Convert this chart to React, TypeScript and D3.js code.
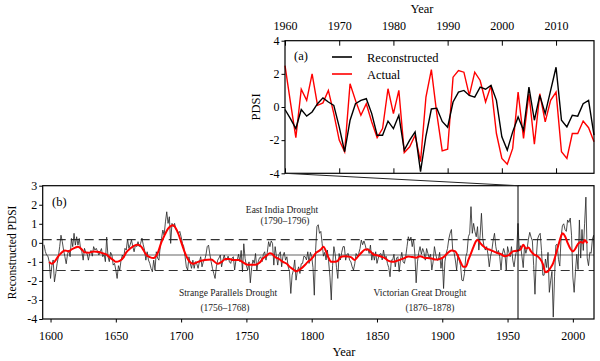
import React, { useRef, useEffect } from "react";
import * as d3 from "d3";

const FONT = "'Liberation Serif', 'Times New Roman', serif";

// reconstructed PDSI, one value per year starting 1595
const reconStart = 1595;
const reconPdsi = [
  -0.1, -0.45, -0.65, -0.7, -1.0,
  -1.87, -1.2, -0.9, -2.05, -1.6, -1.1, -0.73, -0.2, 0.4, 0.06,
  -0.38, -0.73, -1.1, -0.6, -0.38, -0.73, 0.23, -0.2, 0.5, -0.12,
  0.32, -0.12, 0.23, -0.3, -0.47, -0.91, -0.29, -0.5, -0.56, -0.91,
  -0.56, -0.4, -0.7, -0.2, -0.38, -0.29, -0.45, -0.64, -0.47, -0.3,
  -0.73, -0.6, -0.99, 0.3, -0.73, -0.99, -0.5, -0.64, -1.17, -1.08,
  -1.43, -1.87, -1.2, -1.43, -0.91, -0.64, -0.8, -0.29, -0.38, 0.2,
  -0.29, -0.1, 0.15, -0.2, -0.47, -0.12, -0.2, 0.06, -0.2, -0.03,
  0.25, -0.1, -0.38, -0.91, -0.47, -0.9, -1.08, -1.35, -1.52, -0.91,
  -1.43, -0.47, -0.8, -0.91, -0.2, 0.23, 0.67, 0.41, 1.1, 1.63,
  1.02, 1.37, -0.03, 1.02, 0.85, 1.02, 0.7, 0.67, 0.5, 0.6,
  0.32, -0.03, -0.2, -0.7, -1.26, -1.43, -0.73, -1.1, -1.34, -0.91,
  -1.34, -0.99, -1.1, -1.34, -0.99, -0.73, -1.26, -1.0, -0.91, -0.64,
  -0.2, -0.12, -0.6, -0.99, -1.34, -1.61, -1.87, -1.26, -0.91, -0.8,
  -0.64, -1.26, -0.91, -0.64, -0.91, -0.9, -0.7, -1.0, -1.08, -0.8,
  -0.73, -1.43, -0.9, -0.91, -0.6, -0.99, -0.4, -1.52, -0.05, -0.82,
  -1.2, -1.43, -1.0, -2.1, -1.3, -0.9, -1.08, -0.56, -1.43, -1.0,
  -0.8, -0.73, -0.99, -0.6, -0.47, -0.91, -0.5, 0.06, -0.2, 0.1,
  -0.03, -1.17, -0.2, -0.7, -1.17, -0.6, -0.47, -1.26, -0.7, -0.5,
  -0.91, -0.73, -1.26, -1.5, -2.66, -1.7, -1.43, -0.9, -1.96, -1.5,
  -1.26, -1.61, -1.1, -1.08, -0.7, -0.73, -0.9, -0.47, -1.08, -0.5,
  -0.73, -1.3, -2.75, -0.4, 0.85, 0.95, 0.5, 0.6, -0.03, -0.7,
  -0.5, -0.9, -0.38, -1.0, -1.8, -3.0, -1.2, -0.2, -0.6, -1.3,
  -1.87, -0.56, -0.9, -0.5, -0.2, -0.2, -0.91, -0.6, -0.56, -0.9,
  -1.0, -1.26, -1.43, -1.1, -0.56, -0.7, -0.56, -0.3, 0.15, -0.1,
  0.1, -0.12, -0.4, -0.3, -0.56, -0.12, -0.91, -0.5, -0.91, -0.47,
  -1.08, -0.8, -0.6, -0.56, -0.9, -0.38, -0.8, -0.7, -1.08, -1.3,
  -1.78, -0.9, -0.91, -0.6, -1.26, -0.8, -0.73, -1.52, -0.9, -0.5,
  -1.0, -1.08, -0.73, -0.2, 0.32, 0.1, 0.3, -0.2, 0.2, -0.6,
  -2.1, -1.0, -0.5, -0.2, -0.6, -0.3, -0.5, -0.91, -0.3, -0.56,
  -0.8, -0.6, -1.43, -1.0, -0.2, -0.6, -0.91, -0.9, -0.5, -1.34,
  -0.8, -2.4, -1.0, -0.56, -0.3, 0.2, 0.5, 0.7, -0.38, -0.5,
  -0.9, -1.43, -0.6, -0.91, -1.2, -1.96, -2.0, -1.61, -0.73, -0.5,
  0.32, 0.5, 1.9, 0.5, 1.02, 0.6, 0.32, 0.85, -0.38, 0.4,
  1.55, 0.23, -0.2, -0.38, -0.2, -0.6, -1.26, -0.7, -0.38, 0.15,
  0.5, -0.2, -0.56, -0.4, -0.73, -1.43, -0.6, -0.3, -0.56, -1.43,
  -0.2, -0.5, -0.73, -0.2, -0.91, -1.26, -0.7, -0.38, 1.02, -0.38,
  -0.15, -0.7, -1.3, -0.15, -0.55, -0.3, 0.2, 0.55, 0.3, 0.1,
  -1.2, -2.7, -0.8, 0.2, 0.4, 0.5, -0.4, -1.7, -1.7, -0.85,
  -1.3, -0.5, -2.6, -2.0, -1.5, -3.9, -1.75, -0.12, -0.07, -0.87,
  -1.22, 0.3, 0.9, 1.0, 0.7, 0.6, 1.2, 1.07, 1.3, 0.4,
  -1.8, -2.6, -1.5, -0.6, -1.4, 1.2, -0.8, 0.7, -0.4, 1.0,
  2.4, -0.8, -1.2, -0.5, -0.55, 0.2, 0.4, -1.7,
];

// observed PDSI, one value per year starting 1960
const actualStart = 1960;
const actualPdsi = [
  2.5, 0.3, -1.85, 1.07, 0.4, 2.0, 0.1, 0.25, 1.0, -0.4,
  -2.0, -2.7, 1.4, 0.4, -0.5, 0.2, -0.9, -1.85, -1.3, 1.1,
  -0.4, 1.0, -2.75, -2.4, -1.7, -3.3, 0.6, 2.25, -0.4, -2.65,
  -2.55, 1.8, 2.2, 2.1, 0.7, 2.1, 1.6, 0.3, 1.3, -1.6,
  -3.1, -3.45, -2.5, 0.9, -1.9, 0.8, -2.25, 0.8, -0.9, 0.4,
  0.9, -2.7, -3.1, -1.6, -1.6, -0.85, -1.25, -2.1,
];

// smoothed reconstruction (red curve in panel b)
const smoothYears = [
  1599, 1601, 1603, 1606, 1608, 1611, 1614, 1616, 1619, 1621, 1624, 1626, 1629, 1633, 1637,
  1640, 1643, 1645, 1648, 1650, 1653, 1656, 1658, 1661, 1663, 1666, 1668, 1670, 1673, 1676,
  1679, 1682, 1685, 1687, 1690, 1692, 1694, 1696, 1698, 1700, 1702, 1704, 1706, 1709, 1713,
  1718, 1723, 1728, 1731, 1734, 1737, 1740, 1744, 1748, 1751, 1754, 1757, 1760, 1763, 1765,
  1768, 1770, 1772, 1775, 1778, 1781, 1783, 1786, 1788, 1790, 1792, 1795, 1797, 1799, 1801,
  1803, 1805, 1807, 1809, 1811, 1813, 1815, 1818, 1820, 1822, 1825, 1828, 1830, 1833, 1835,
  1837, 1839, 1841, 1843, 1845, 1847, 1850, 1853, 1856, 1859, 1862, 1865, 1868, 1871, 1874,
  1877, 1880, 1883, 1886, 1889, 1892, 1895, 1898, 1901, 1904, 1907, 1910, 1912, 1914, 1916,
  1918, 1920, 1922, 1924, 1926, 1927, 1929, 1931, 1934, 1937, 1941, 1945, 1948, 1951, 1954,
  1957, 1960, 1962, 1964, 1966, 1968, 1970, 1973, 1975, 1977, 1979, 1981, 1983, 1985, 1987,
  1989, 1991, 1992, 1994, 1996, 1998, 2000, 2002, 2004, 2006, 2008, 2009, 2011,
];
const smoothPdsi = [
  -1.0, -1.1, -1.0, -0.7, -0.55, -0.4, -0.45, -0.35, -0.25, -0.2, -0.35, -0.5, -0.52, -0.45, -0.48,
  -0.55, -0.62, -0.75, -0.9, -1.0, -0.95, -0.75, -0.5, -0.3, -0.2, -0.1, -0.12, -0.25, -0.6, -0.75,
  -0.8, -0.55, 0.05, 0.35, 0.75, 0.88, 0.92, 0.75, 0.45, 0.05, -0.35, -0.7, -0.95, -1.1, -1.0,
  -0.9, -0.87, -1.1, -1.0, -0.85, -0.85, -0.9, -0.9, -1.05, -1.15, -1.15, -1.15, -1.05, -0.8, -0.7,
  -0.55, -0.6, -0.75, -0.85, -1.0, -1.1, -1.25, -1.4, -1.5, -1.45, -1.35, -1.15, -1.0, -0.9, -0.75,
  -0.55, -0.45, -0.35, -0.2, -0.45, -0.8, -1.0, -1.0, -0.95, -0.75, -0.7, -0.72, -0.75, -0.9, -0.75,
  -0.6, -0.45, -0.35, -0.35, -0.45, -0.6, -0.65, -0.72, -0.8, -0.95, -1.0, -0.95, -0.88, -0.8, -0.72,
  -0.75, -0.78, -0.7, -0.78, -0.8, -0.82, -0.88, -0.85, -0.75, -0.55, -0.4, -0.45, -0.7, -1.0, -1.25,
  -1.25, -0.9, -0.55, -0.2, 0.1, 0.15, 0.0, -0.15, -0.3, -0.38, -0.5, -0.6, -0.7, -0.65, -0.45,
  -0.42, -0.35, -0.1, -0.3, -0.25, -0.45, -0.6, -0.7, -0.85, -1.1, -1.55, -1.5, -1.3, -1.05, -0.6,
  -0.1, 0.35, 0.5, 0.35, 0.0, -0.3, -0.45, -0.3, -0.05, 0.05, 0.0, 0.15, -0.02,
];

// reference lines in panel (b): mean and mean +/- one standard deviation
const meanPdsi = -0.64;
const sdPdsi = [0.17, -1.45];
// first year of the inset (a), marked on panel (b)
const insetYear = 1958;

const topYearTicks = [1960, 1970, 1980, 1990, 2000, 2010];
const topPdsiTicks = [-4, -2, 0, 2, 4];
const bottomYearTicks = [1600, 1650, 1700, 1750, 1800, 1850, 1900, 1950, 2000];
const bottomPdsiTicks = [-4, -3, -2, -1, 0, 1, 2, 3];

const legendLabels = ["Reconstructed", "Actual"];
const droughtNames = ["East India Drought", "Strange Parallels Drought", "Victorian Great Drought"];
const droughtSpans = ["(1790\u20131796)", "(1756\u20131768)", "(1876\u20131878)"];

export default function App() {
  const ref = useRef<SVGSVGElement>(null);

  useEffect(() => {
    const svg = d3.select(ref.current);
    svg.selectAll("*").remove();

    const recon = reconPdsi.map((v, i) => ({ year: reconStart + i, v }));
    const actual = actualPdsi.map((v, i) => ({ year: actualStart + i, v }));
    const smooth = smoothYears.map((year, i) => ({ year, v: smoothPdsi[i] }));
    const reconRecent = recon.filter((d) => d.year >= actualStart);

    const styleAxis = (g: any, size = 12) => {
      g.attr("font-family", FONT).attr("font-size", size);
      g.select(".domain").remove();
      g.selectAll("line").attr("stroke", "#000");
      g.selectAll("text").attr("fill", "#000");
    };

    // ---------- panel (a)
    const a = { left: 285, right: 594, top: 40.7, bottom: 173.3 };
    const xa = d3.scaleLinear().domain([1960, 2017]).range([a.left, a.right]);
    const ya = d3.scaleLinear().domain([-4, 4]).range([a.bottom, a.top]);

    svg
      .append("g")
      .attr("transform", `translate(0,${a.top})`)
      .call(
        d3.axisTop(xa).tickValues(topYearTicks).tickFormat(d3.format("d")).tickSizeInner(-5).tickSizeOuter(0).tickPadding(11)
      )
      .call(styleAxis);

    svg
      .append("g")
      .attr("transform", `translate(0,${a.bottom})`)
      .call(d3.axisBottom(xa).tickValues(topYearTicks).tickFormat(() => "").tickSizeInner(-5).tickSizeOuter(0))
      .call(styleAxis);

    svg
      .append("g")
      .attr("transform", `translate(${a.left},0)`)
      .call(d3.axisLeft(ya).tickValues(topPdsiTicks).tickFormat((d) => String(d)).tickSize(3.5).tickPadding(2))
      .call(styleAxis);

    const lineA = d3
      .line<{ year: number; v: number }>()
      .x((d) => xa(d.year))
      .y((d) => ya(d.v));

    svg.append("path").datum(actual).attr("fill", "none").attr("stroke", "#ff0000").attr("stroke-width", 1.4).attr("d", lineA);
    svg.append("path").datum(reconRecent).attr("fill", "none").attr("stroke", "#000").attr("stroke-width", 1.4).attr("d", lineA);

    svg
      .append("rect")
      .attr("x", a.left)
      .attr("y", a.top)
      .attr("width", a.right - a.left)
      .attr("height", a.bottom - a.top)
      .attr("fill", "none")
      .attr("stroke", "#000")
      .attr("stroke-width", 1.2);

    // labels for (a)
    svg.append("text").attr("x", 422).attr("y", 13).attr("text-anchor", "middle")
      .attr("font-family", FONT).attr("font-size", 12.5).text("Year");
    svg.append("text").attr("transform", `translate(260,${ya(0)}) rotate(-90)`).attr("text-anchor", "middle")
      .attr("font-family", FONT).attr("font-size", 12.5).text("PDSI");
    svg.append("text").attr("x", 294).attr("y", 60).attr("font-family", FONT).attr("font-size", 12.5).text("(a)");

    // legend
    const legendColors = ["#000", "#ff0000"];
    legendLabels.forEach((label, i) => {
      const ly = 57 + i * 17;
      svg.append("line").attr("x1", 332).attr("x2", 352).attr("y1", ly).attr("y2", ly)
        .attr("stroke", legendColors[i]).attr("stroke-width", 1.6);
      svg.append("text").attr("x", 367).attr("y", ly + 4.5)
        .attr("font-family", FONT).attr("font-size", 12.5).text(label);
    });

    // ---------- panel (b)
    const b = { left: 42.7, right: 594, top: 185.7, bottom: 319 };
    const xb = d3.scaleLinear().domain([1594, 2016.2]).range([b.left, b.right]);
    const yb = d3.scaleLinear().domain([-4, 3]).range([b.bottom, b.top]);

    svg.append("clipPath").attr("id", "clipB")
      .append("rect").attr("x", b.left).attr("y", b.top)
      .attr("width", b.right - b.left).attr("height", b.bottom - b.top);

    const plot = svg.append("g").attr("clip-path", "url(#clipB)");

    // mean and +/- sd lines
    plot.append("line").attr("x1", b.left).attr("x2", b.right)
      .attr("y1", yb(meanPdsi)).attr("y2", yb(meanPdsi))
      .attr("stroke", "#666").attr("stroke-width", 1.2);
    sdPdsi.forEach((v) => {
      plot.append("line").attr("x1", b.left).attr("x2", b.right)
        .attr("y1", yb(v)).attr("y2", yb(v))
        .attr("stroke", "#333").attr("stroke-width", 1.1).attr("stroke-dasharray", "9,5");
    });

    const lineB = d3
      .line<{ year: number; v: number }>()
      .x((d) => xb(d.year))
      .y((d) => yb(d.v));

    plot.append("path").datum(recon).attr("fill", "none").attr("stroke", "#222").attr("stroke-width", 0.8).attr("d", lineB);
    plot.append("path").datum(smooth).attr("fill", "none").attr("stroke", "#ff0000").attr("stroke-width", 2)
      .attr("d", lineB.curve(d3.curveMonotoneX));

    svg
      .append("rect")
      .attr("x", b.left)
      .attr("y", b.top)
      .attr("width", b.right - b.left)
      .attr("height", b.bottom - b.top)
      .attr("fill", "none")
      .attr("stroke", "#000")
      .attr("stroke-width", 1.2);

    svg
      .append("g")
      .attr("transform", `translate(0,${b.bottom})`)
      .call(d3.axisBottom(xb).tickValues(bottomYearTicks).tickFormat(d3.format("d")).tickSizeInner(3.5).tickSizeOuter(0).tickPadding(8.5))
      .call(styleAxis);

    svg
      .append("g")
      .attr("transform", `translate(${b.left},0)`)
      .call(d3.axisLeft(yb).tickValues(bottomPdsiTicks).tickFormat((d) => String(d)).tickSize(3.5).tickPadding(2))
      .call(styleAxis);

    // link between inset and main series
    svg.append("line").attr("x1", xb(insetYear)).attr("x2", xb(insetYear))
      .attr("y1", b.top).attr("y2", b.bottom).attr("stroke", "#000").attr("stroke-width", 1);
    svg.append("line").attr("x1", a.left).attr("y1", a.bottom)
      .attr("x2", xb(insetYear)).attr("y2", b.top).attr("stroke", "#222").attr("stroke-width", 1);

    // labels for (b)
    svg.append("text").attr("x", 52).attr("y", 206).attr("font-family", FONT).attr("font-size", 12.5).text("(b)");
    svg.append("text").attr("x", 344).attr("y", 356).attr("text-anchor", "middle")
      .attr("font-family", FONT).attr("font-size", 12.5).text("Year");
    svg.append("text").attr("transform", `translate(16,${(b.top + b.bottom) / 2}) rotate(-90)`)
      .attr("text-anchor", "middle").attr("font-family", FONT).attr("font-size", 11.5).text("Reconstructed PDSI");

    // drought annotations
    const notePos = [
      { x: 282, y: 212.5 },
      { x: 228, y: 296 },
      { x: 420, y: 296 },
    ];
    const spanPos = [
      { x: 285, y: 224 },
      { x: 225, y: 311 },
      { x: 430, y: 311 },
    ];
    droughtNames.forEach((name, i) => {
      svg.append("text").attr("x", notePos[i].x).attr("y", notePos[i].y).attr("text-anchor", "middle")
        .attr("font-family", FONT).attr("font-size", 9.5).attr("fill", "#222").text(name);
      svg.append("text").attr("x", spanPos[i].x).attr("y", spanPos[i].y).attr("text-anchor", "middle")
        .attr("font-family", FONT).attr("font-size", 9.5).attr("fill", "#222").text(droughtSpans[i]);
    });
  }, []);

  return (
    <svg
      ref={ref}
      width={600}
      height={361}
      style={{ position: "absolute", left: 0, top: 0, background: "#fff" }}
    />
  );
}
